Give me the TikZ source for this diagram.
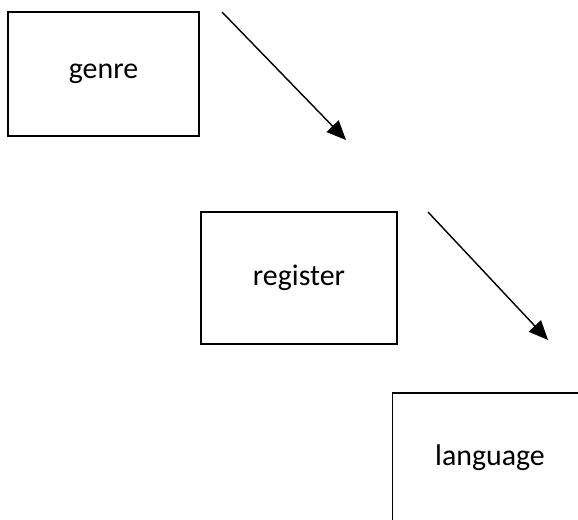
\documentclass[tikz,border=0pt]{standalone}
\usepackage{fontspec}
\setmainfont{Carlito}
\usetikzlibrary{arrows.meta}
\tikzset{
    box/.style={draw, line width=0.8pt, inner sep=0pt, font=\fontsize{17}{20}\selectfont},
    flow/.style={line width=0.8pt, -{Triangle[length=11pt,width=9.5pt]}}
}
\begin{document}
\begin{tikzpicture}[x=0.02cm, y=-0.02cm]
                \useasboundingbox (0,0) rectangle (578,520);
                \clip (0,0) rectangle (578,520);

                \node[box, minimum width=3.82cm, minimum height=2.48cm] (genre) at (103.5,74) {genre};
                \node[box, minimum width=3.92cm, minimum height=2.64cm] (register) at (299,278) {register};
                \node[box, minimum width=3.9cm, minimum height=2.6cm] (language) at (490,458) {language};

                \coordinate (a1) at (222,12);
                \coordinate (b1) at (346,140);
                \coordinate (a2) at (428,212);
                \coordinate (b2) at (548,340);

                \draw[flow] (a1) -- (b1);
                \draw[flow] (a2) -- (b2);
            \end{tikzpicture}
\end{document}
